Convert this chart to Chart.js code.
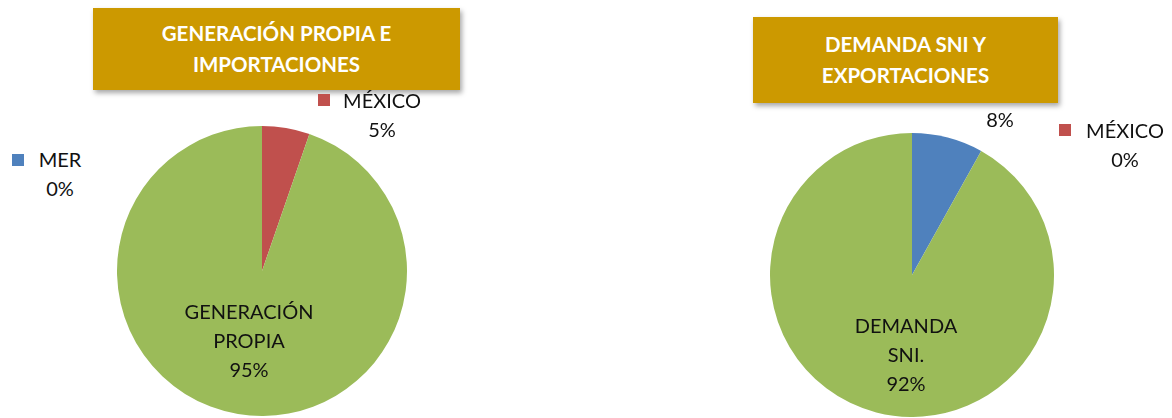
<!DOCTYPE html>
<html>
<head>
<meta charset="utf-8">
<title>Generación y demanda</title>
<script src="https://cdn.jsdelivr.net/npm/chart.js"></script>
</head>
<style>
body {
  margin: 0;
  width: 1172px;
  height: 418px;
  background: #fff;
  position: relative;
  overflow: hidden;
  font-family: Lato, "Open Sans", sans-serif;
}
.title {
  position: absolute;
  background: #cc9900;
  color: #fff;
  font-weight: bold;
  font-size: 20.5px;
  line-height: 31px;
  text-align: center;
  display: flex;
  align-items: center;
  justify-content: center;
  box-shadow: 2px 3px 5px rgba(0,0,0,0.35);
}
.pie {
  position: absolute;
}
.lbl {
  position: absolute;
  font-size: 20px;
  line-height: 29px;
  color: #111;
  text-align: center;
  white-space: nowrap;
  transform: translateX(-50%);
}
.key {
  position: absolute;
  width: 12px;
  height: 12px;
}
</style>
<body>
<div class="title" style="left:93px;top:8px;width:367px;height:82px;">GENERACIÓN PROPIA E<br>IMPORTACIONES</div>
<div class="title" style="left:753px;top:17px;width:305px;height:86px;">DEMANDA SNI Y<br>EXPORTACIONES</div>

<div class="pie" style="left:117px;top:126px;width:290px;height:290px;"><canvas id="pie1"></canvas></div>
<div class="pie" style="left:770px;top:133px;width:284px;height:284px;"><canvas id="pie2"></canvas></div>

<div class="key" style="left:318px;top:94px;background:#c0504d"></div>
<div class="lbl" style="left:382px;top:86px;">MÉXICO<br>5%</div>
<div class="key" style="left:12px;top:154px;background:#4f81bd"></div>
<div class="lbl" style="left:60px;top:145px;">MER<br>0%</div>
<div class="lbl" style="left:249px;top:297px;">GENERACIÓN<br>PROPIA<br>95%</div>

<div class="lbl" style="left:1000px;top:105px;">8%</div>
<div class="key" style="left:1059px;top:124px;background:#c0504d"></div>
<div class="lbl" style="left:1125px;top:116px;">MÉXICO<br>0%</div>
<div class="lbl" style="left:906px;top:311px;">DEMANDA<br>SNI.<br>92%</div>

<script>
const colors = ['#4f81bd', '#c0504d', '#9bbb59'];

// left pie: generación propia e importaciones (%)
const labels1 = ['MER', 'MÉXICO', 'GENERACIÓN PROPIA'];
const values1 = [0, 5.3, 94.7];

// right pie: demanda SNI y exportaciones (%)
const labels2 = ['MER', 'MÉXICO', 'DEMANDA SNI.'];
const values2 = [8.1, 0, 91.9];

function makePie(id, labels, values) {
  return new Chart(document.getElementById(id), {
    type: 'pie',
    data: {
      labels: labels,
      datasets: [{
        data: values,
        backgroundColor: colors,
        borderWidth: 0
      }]
    },
    options: {
      responsive: true,
      maintainAspectRatio: false,
      animation: false,
      layout: { padding: 0 },
      plugins: {
        legend: { display: false },
        tooltip: { enabled: false }
      }
    }
  });
}

makePie('pie1', labels1, values1);
makePie('pie2', labels2, values2);
</script>
</body>
</html>
